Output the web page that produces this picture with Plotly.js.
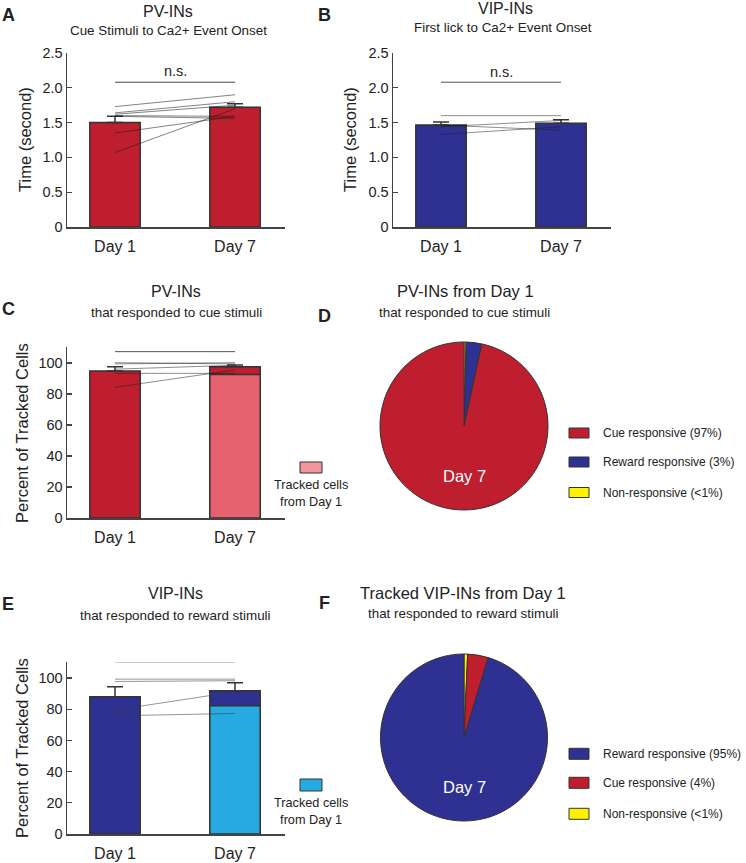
<!DOCTYPE html>
<html><head><meta charset="utf-8">
<script src="https://cdn.plot.ly/plotly-3.0.1.min.js"></script>
<style>html,body{margin:0;padding:0;background:#fff}#chart{width:746px;height:863px}</style>
</head><body><div id="chart"></div>
<script>
const W = 746, H = 863;
const days = ['Day 1', 'Day 7'];
const dayPos = [1, 2];
const timeTicks = [0, 0.5, 1, 1.5, 2, 2.5];
const timeTickText = ['0', '0.5', '1.0', '1.5', '2.0', '2.5'];
const pctTicks = [0, 20, 40, 60, 80, 100];

// Panel A: PV-INs latency (cue stimuli to Ca2+ event onset)
const pvLatencyMean = [1.50, 1.72];
const pvLatencyErr = [0.09, 0.05];
const pvLatencyDay1 = [1.73, 1.64, 1.62, 1.60, 1.59, 1.35, 1.07];
const pvLatencyDay7 = [1.90, 1.80, 1.75, 1.59, 1.56, 1.59, 1.70];
const pvLatencySig = 2.08;

// Panel B: VIP-INs latency (first lick to Ca2+ event onset)
const vipLatencyMean = [1.465, 1.49];
const vipLatencyErr = [0.045, 0.05];
const vipLatencyDay1 = [1.60, 1.465, 1.44, 1.33];
const vipLatencyDay7 = [1.60, 1.39, 1.53, 1.44];
const vipLatencySig = 2.08;

// Panel C: PV-INs responding to cue stimuli (% of tracked cells)
const pvCueMean = [94.8, 97.6];
const pvCueErr = [2.8, 1.1];
const pvCueTrackedDay7 = [92.5];
const pvCueDay1 = [100.2, 99.4, 96.0, 93.3, 84.3];
const pvCueDay7 = [99.4, 100.2, 98.5, 93.3, 95.5];
const pvCueSig = 107.3;

// Panel D: PV-INs from Day 1, Day 7 response type
const pvPieLabels = ['Non-responsive (<1%)', 'Reward responsive (3%)', 'Cue responsive (97%)'];
const pvPieValues = [0.4, 3.0, 96.6];
const pvLegendLabels = ['Cue responsive (97%)', 'Reward responsive (3%)', 'Non-responsive (<1%)'];

// Panel E: VIP-INs responding to reward stimuli
const vipRewardMean = [88.0, 91.9];
const vipRewardErr = [6.4, 5.1];
const vipRewardTrackedDay7 = [82.3];
const vipRewardDay1 = [99.3, 97.8, 79.5, 75.8];
const vipRewardDay7 = [99.3, 98.3, 91.2, 77.3];
const vipRewardSig = 110.5;

// Panel F: tracked VIP-INs from Day 1, Day 7 response type
const vipPieLabels = ['Non-responsive (<1%)', 'Cue responsive (4%)', 'Reward responsive (95%)'];
const vipPieValues = [0.7, 4.0, 95.3];
const vipLegendLabels = ['Reward responsive (95%)', 'Cue responsive (4%)', 'Non-responsive (<1%)'];

const RED = '#be1e2d', PINK = '#e6616e', PINK_SW = '#f3939d';
const BLUE = '#2e3192', LBLUE = '#27aae1', YELLOW = '#fff200';
const EDGE = '#333333';
const FONT = 'Liberation Sans, Arial, Helvetica, sans-serif';

const fx = p => p / W;
const fy = p => 1 - p / H;

const traces = [];

function barPanel(ax, mean, err, colors, trackedVal, trackedColor, d1, d7, sig, lineColor, sigColor, sigWidth) {
  const xa = 'x' + (ax === 1 ? '' : ax), ya = 'y' + (ax === 1 ? '' : ax);
  traces.push({
    type: 'bar', x: dayPos, y: mean, xaxis: xa, yaxis: ya, width: 0.42,
    marker: {color: colors, line: {color: EDGE, width: 1.5}},
    error_y: {type: 'data', symmetric: false, array: err, arrayminus: [0, 0], color: EDGE, thickness: 1.5, width: 8},
    showlegend: false, hoverinfo: 'skip'
  });
  if (trackedVal) {
    traces.push({
      type: 'bar', x: [dayPos[1]], y: trackedVal, xaxis: xa, yaxis: ya, width: 0.42,
      marker: {color: trackedColor, line: {color: EDGE, width: 1.5}},
      showlegend: false, hoverinfo: 'skip'
    });
  }
  for (let i = 0; i < d1.length; i++) {
    traces.push({
      type: 'scatter', mode: 'lines', x: dayPos, y: [d1[i], d7[i]], xaxis: xa, yaxis: ya,
      line: {color: lineColor, width: 1}, showlegend: false, hoverinfo: 'skip'
    });
  }
  traces.push({
    type: 'scatter', mode: 'lines', x: dayPos, y: [sig, sig], xaxis: xa, yaxis: ya,
    line: {color: sigColor, width: sigWidth}, showlegend: false, hoverinfo: 'skip'
  });
}

barPanel(1, pvLatencyMean, pvLatencyErr, [RED, RED], null, null, pvLatencyDay1, pvLatencyDay7, pvLatencySig, 'rgba(30,30,30,0.55)', '#444', 1);
barPanel(2, vipLatencyMean, vipLatencyErr, [BLUE, BLUE], null, null, vipLatencyDay1, vipLatencyDay7, vipLatencySig, 'rgba(30,30,30,0.5)', '#555', 1);
barPanel(3, pvCueMean, pvCueErr, [RED, RED], pvCueTrackedDay7, PINK, pvCueDay1, pvCueDay7, pvCueSig, 'rgba(30,30,30,0.5)', '#555', 1);
barPanel(4, vipRewardMean, vipRewardErr, [BLUE, BLUE], vipRewardTrackedDay7, LBLUE, vipRewardDay1, vipRewardDay7, vipRewardSig, 'rgba(60,60,60,0.55)', '#999', 1.5);

traces.push({
  type: 'pie', labels: pvPieLabels, values: pvPieValues, sort: false, direction: 'clockwise', rotation: 0,
  marker: {colors: [YELLOW, BLUE, RED], line: {color: EDGE, width: 1}},
  textinfo: 'none', hoverinfo: 'skip', showlegend: false,
  domain: {x: [fx(380), fx(548)], y: [fy(510), fy(342)]}
});
traces.push({
  type: 'pie', labels: vipPieLabels, values: vipPieValues, sort: false, direction: 'clockwise', rotation: 0,
  marker: {colors: [YELLOW, RED, BLUE], line: {color: EDGE, width: 1}},
  textinfo: 'none', hoverinfo: 'skip', showlegend: false,
  domain: {x: [fx(380), fx(548)], y: [fy(821), fy(654)]}
});

function xAxis(x0, x1, anchor) {
  return {
    domain: [fx(x0), fx(x1)], anchor: anchor, range: [0.6, 2.4167],
    tickvals: dayPos, ticktext: days, ticks: 'outside', ticklen: 4, tickcolor: 'rgba(0,0,0,0)',
    showline: true, linecolor: '#444', linewidth: 1.5, showgrid: false, zeroline: false,
    tickfont: {family: FONT, size: 16, color: '#222'}, fixedrange: true
  };
}
function yAxis(y0, y1, anchor, range, tv, tt) {
  const a = {
    domain: [fy(y1), fy(y0)], anchor: anchor, range: range,
    tickvals: tv, ticks: 'inside', ticklen: 5, tickcolor: '#444', tickwidth: 1.2,
    showline: true, linecolor: '#444', linewidth: 1.5, showgrid: false, zeroline: false,
    tickfont: {family: FONT, size: 14.5, color: '#222'}, fixedrange: true
  };
  if (tt) a.ticktext = tt;
  return a;
}

const annotations = [];
function ann(text, px, py, size, extra) {
  annotations.push(Object.assign({
    text: text, xref: 'paper', yref: 'paper', x: fx(px), y: fy(py),
    xanchor: 'center', yanchor: 'middle', showarrow: false,
    font: {family: FONT, size: size, color: '#222'}
  }, extra || {}));
}
// y-axis titles
ann('Time (second)', 25, 140, 16.5, {textangle: -90});
ann('Time (second)', 350, 140, 16.5, {textangle: -90});
ann('Percent of Tracked Cells', 22, 433, 16.5, {textangle: -90});
ann('Percent of Tracked Cells', 22, 748, 16.5, {textangle: -90});
// panel letters
ann('<b>A</b>', 8, 15, 18); ann('<b>B</b>', 324, 15, 18);
ann('<b>C</b>', 8, 309, 18); ann('<b>D</b>', 324, 316, 18);
ann('<b>E</b>', 8, 604, 18); ann('<b>F</b>', 324, 603, 18);
// titles
ann('PV-INs', 168, 11, 16); ann('Cue Stimuli to Ca2+ Event Onset', 168, 31, 13.4);
ann('VIP-INs', 505, 9, 16); ann('First lick to Ca2+ Event Onset', 503, 28, 13.4);
ann('PV-INs', 176, 291, 16); ann('that responded to cue stimuli', 176, 312, 13.4);
ann('PV-INs from Day 1', 465, 291, 16.5); ann('that responded to cue stimuli', 464, 312, 13.4);
ann('VIP-INs', 175, 593, 16); ann('that responded to reward stimuli', 175, 615, 13.4);
ann('Tracked VIP-INs from Day 1', 463, 593, 16.5); ann('that responded to reward stimuli', 463, 613, 13.4);
// n.s.
[['x', 'y', 2.245], ['x2', 'y2', 2.23], ['x3', 'y3', 114.8], ['x4', 'y4', 118]].forEach(a => {
  annotations.push({text: 'n.s.', xref: a[0], yref: a[1], x: 1.5, y: a[2], showarrow: false,
    xanchor: 'center', yanchor: 'middle', font: {family: FONT, size: 14.5, color: '#222'}});
});
// Day 7 in pies
ann('Day 7', 464, 476, 16.5, {font: {family: FONT, size: 16.5, color: '#ffffff'}});
ann('Day 7', 464, 787, 16.5, {font: {family: FONT, size: 16.5, color: '#ffffff'}});
// tracked-cells legends
ann('Tracked cells<br>from Day 1', 311, 493, 12.7, {});
ann('Tracked cells<br>from Day 1', 311, 811, 12.7, {});

const shapes = [];
function swatch(x0, y0, x1, y1, color) {
  shapes.push({type: 'rect', xref: 'paper', yref: 'paper', x0: fx(x0), x1: fx(x1), y0: fy(y1), y1: fy(y0),
    fillcolor: color, line: {color: EDGE, width: 1}});
}
swatch(300, 462, 322, 473, PINK_SW);
swatch(300, 779, 322, 791, LBLUE);
const pvLegendColors = [RED, BLUE, YELLOW];
const pvLegendY = [433, 462, 492.5];
pvLegendLabels.forEach((l, i) => {
  swatch(569, pvLegendY[i] - 5, 589, pvLegendY[i] + 5, pvLegendColors[i]);
  ann(l, 601, pvLegendY[i], 12, {xanchor: 'left'});
});
const vipLegendColors = [BLUE, RED, YELLOW];
const vipLegendY = [753.8, 782.8, 813.8];
vipLegendLabels.forEach((l, i) => {
  swatch(569, vipLegendY[i] - 5.5, 589, vipLegendY[i] + 5.5, vipLegendColors[i]);
  ann(l, 601, vipLegendY[i], 12, {xanchor: 'left'});
});

const layout = {
  width: W, height: H, margin: {l: 0, r: 0, t: 0, b: 0},
  paper_bgcolor: '#fff', plot_bgcolor: 'rgba(0,0,0,0)',
  barmode: 'overlay', showlegend: false,
  font: {family: FONT, color: '#222'},
  xaxis: xAxis(67, 285, 'y'),
  yaxis: yAxis(53, 227, 'x', [0, 2.5], timeTicks, timeTickText),
  xaxis2: xAxis(393, 611, 'y2'),
  yaxis2: yAxis(53, 227, 'x2', [0, 2.5], timeTicks, timeTickText),
  xaxis3: xAxis(67, 285, 'y3'),
  yaxis3: yAxis(347, 518, 'x3', [0, 110.3], pctTicks, null),
  xaxis4: xAxis(67, 285, 'y4'),
  yaxis4: yAxis(662, 834, 'x4', [0, 110.3], pctTicks, null),
  annotations: annotations, shapes: shapes
};

Plotly.newPlot('chart', traces, layout, {staticPlot: true, displayModeBar: false});
</script></body></html>
